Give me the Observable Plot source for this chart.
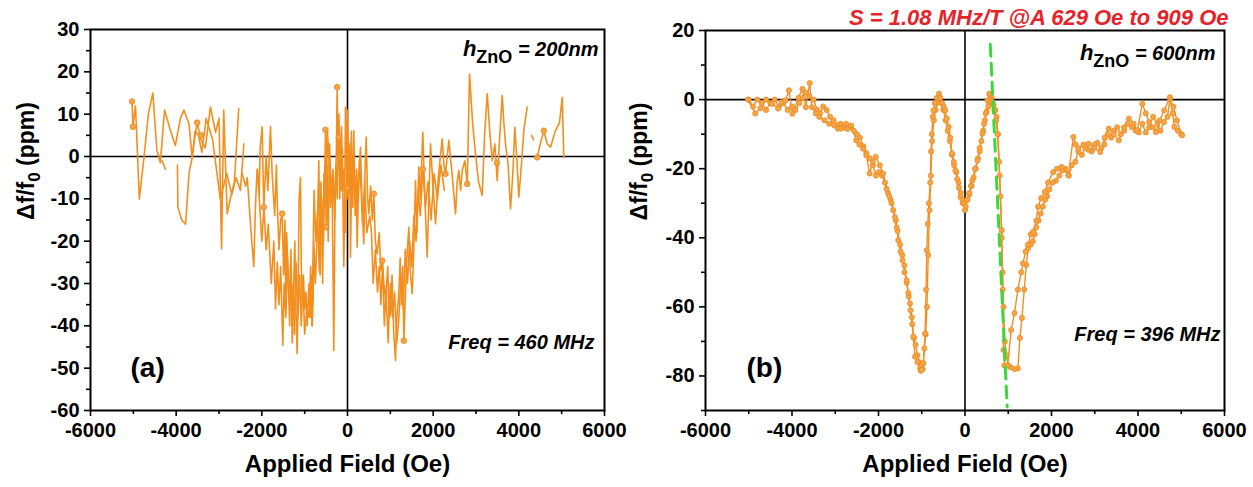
<!DOCTYPE html>
<html><head><meta charset="utf-8">
<script src="https://cdn.jsdelivr.net/npm/d3@7"></script>
<script src="https://cdn.jsdelivr.net/npm/@observablehq/plot@0.6"></script>
<style>
body{margin:0;background:#fff;}
#wrap{display:flex;width:1253px;height:487px;overflow:hidden;background:#fff;}
#wrap svg{overflow:visible;}
#pa{position:relative;z-index:2;}
</style></head><body><div id="wrap"><div id="pa"></div><div id="pb"></div></div>
<script>
// ---------- tick values ----------
const xTicks = [-6000,-4000,-2000,0,2000,4000,6000];
const xMinor = [-5000,-3000,-1000,1000,3000,5000];
const aYTicks = [-60,-50,-40,-30,-20,-10,0,10,20,30];
const aYMinor = [-55,-45,-35,-25,-15,-5,5,15,25];
const bYTicks = [-80,-60,-40,-20,0,20];
const bYMinor = [-90,-70,-50,-30,-10,10];

// ---------- texts ----------
const xLabel = "Applied Field (Oe)";
const yLabel = "Δf/f0 (ppm)";
const hLabelA = "hZnO = 200nm";
const hLabelB = "hZnO = 600nm";
const freqA = "Freq = 460 MHz";
const freqB = "Freq = 396 MHz";
const tagA = "(a)";
const tagB = "(b)";
const titleB = "S = 1.08 MHz/T @A 629 Oe to 909 Oe";

// ---------- panel (a) data: [field Oe, ppm]; null = gap ----------
const aTrace1 = [[-5030,13],[-5010,7],[-4950,12],[-4860,-10],[-4760,-1],[-4650,10],[-4545,15],[-4450,1.5],[-4370,-1.5],[-4270,11],[-4130,6],[-4020,2.6],[-3900,9],[-3820,11],[-3700,7.7],[-3630,0],[-3510,8],[-3420,4],[-3320,2],[-3200,11.7],[-3080,5.7],[-3000,9],[-2940,-21.8],[-2890,11],[-2810,-13.5],[-2710,-8.8],[-2640,-6],[-2540,11.3],[-2500,null],
[-2460,-4],[-2380,-7],[-2340,-5],[-2250,-18],[-2188,-26],[-2150,-12],[-2110,-3],[-2060,-9],[-2040,2],[-1992,7],[-1970,-5],[-1953,-12],[-1900,0],[-1860,-8],[-1798,7],[-1760,-4],[-1700,-14],[-1660,-2],[-1642,-10],[-1600,-22],[-1560,-15],[-1525,-13.5],[-1490,-28],[-1460,-15],[-1440,-34],[-1420,-18],[-1390,-27],[-1350,-40],[-1320,-22],[-1291,-44],[-1260,-32],[-1230,-20],[-1200,-38],[-1175,-46.6],[-1150,-30],[-1130,-10],[-1097,-5],[-1080,-25],[-1058,-35],[-1030,-28],[-1000,-36],[-970,-32],[-941,-40],[-900,-30],[-870,-38],[-850,-28],[-824,-40],[-800,-33],[-785,-20],[-750,-30],[-707,-18],[-670,-1],[-640,-28],[-600,-10],[-560,-20],[-514,6],[-500,-16.7],[-470,6.3],[-437,0.6],[-400,-12],[-360,-5],[-320,-45.8],[-290,-8],[-260,1],[-241,16.4],[-220,-3],[-200,4.6],[-180,-10],[-163,4.6],[-140,-8],[-120,2],[-100,-16],[-86,-26],[-60,-5],[-47,11.7],[-30,-3],[-8,8.5],[10,-10],[31,-7.2],[50,2],[70,-23.8],[100,-2],[125,-12],[148,6.1],[170,-8],[200,-5],[226,-21.4],[260,-5],[304,2.2],[340,-12],[381,-20.6],[410,-3],[436,4.6],[470,-10],[498,-13.5],[540,-7],[580,-15],[615,-8.8],[650,-20],[693,-23],[740,-18],[780,-27],[810,-24.6],[850,-30],[888,-34],[940,-26],[970,-38],[1004,-37.2],[1040,-28],[1080,-42],[1121,-48.2],[1150,-38],[1198,-32.4],[1230,-24],[1260,-35],[1290,-26],[1315,-43.5],[1354,-32],[1380,-25],[1431,-16.7],[1470,-28],[1510,-32.4],[1548,-21.4],[1588,-5.7],[1620,-18],[1665,-2.5],[1700,-10],[1758,5.7],[1800,-8],[1860,-23.8],[1900,-10],[1938,3],[1990,-6],[2055,-15.9],[2120,-5],[2211,4.2],[2250,-2],[2288,-4.1],[2366,3.8],[2440,-4],[2522,-13.5],[2560,-6],[2599,-3.3],[2640,-8],[2678,-3.3],[2740,-1],[2795,-6.5],[2849,19.5],[2920,8],[2989,0.6],[3060,-6],[3145,-9.2],[3200,5],[3262,14.8],[3320,6],[3378,-0.9],[3440,3],[3495,-5.7],[3550,4],[3612,14.4],[3650,8],[3689,3],[3750,-2],[3806,-12.4],[3860,-4],[3906,6.9],[3950,0],[3999,-9.6],[4060,-2],[4116,6.1],[4196,11.7],[4250,null],[4300,5],[4340,4],[4380,null],[4429,-0.2],[4500,3],[4583,6.1],[4660,3],[4740,2.2],[4850,6],[4950,8],[5013,14],[5050,-0.2]];

const aTrace2 = [[-4330,-1],[-4250,-3],[-4200,null],[-3970,-2],[-3960,-12],[-3870,-15],[-3780,-16],[-3700,-4],[-3620,0],[-3560,6],[-3480,5],[-3400,1],[-3300,9],[-3150,4],[-2970,-10],[-2820,-4],[-2700,-9],[-2600,-5],[-2500,-8],[-2420,3],[-2380,null],
[-2100,-3],[-2000,-20],[-1950,-12],[-1900,-22],[-1850,-16],[-1780,-30],[-1720,-20],[-1680,-36],[-1640,-25],[-1600,-35],[-1560,-26],[-1510,-44.6],[-1480,-30],[-1440,-38],[-1400,-24],[-1360,-35],[-1330,-26],[-1300,-40],[-1270,-30],[-1240,-42],[-1200,-25],[-1160,-38],[-1120,-28],[-1080,-40],[-1040,-30],[-1000,-42],[-950,-36],[-900,-38],[-860,-26],[-830,-40],[-780,-8],[-740,-20],[-700,-13],[-660,-27],[-620,-6],[-580,-30],[-550,-4],[-520,-12],[-480,-2],[-450,-20],[-420,3],[-380,-9],[-340,-3],[-300,-15],[-270,-2],[-240,-10],[-200,10],[-170,-6],[-140,7],[-110,-8],[-80,-3],[-50,-18],[-20,-8],[0,11],[20,-4],[40,3],[60,-8],[90,6],[120,-5],[150,0],[180,-14],[210,-3],[250,-11],[280,-1],[320,-8],[350,-16],[400,-6],[450,-18],[520,-14],[560,-18],[600,-30],[650,-22],[700,-32],[740,-26],[780,-35],[820,-25],[860,-40],[900,-32],[950,-44],[980,-35],[1000,-30],[1050,-38],[1100,-32],[1150,-44],[1200,-38],[1250,-28],[1300,-36],[1350,-22],[1400,-30],[1450,-20],[1500,-26],[1550,-14],[1600,-20],[1650,-8],[1700,-14],[1760,-3],[1820,-12],[1880,-6],[1950,-15],[2020,-4],[2100,-10],[2180,-2],[2260,-8]];

const aMarkers = [[-5030,13],[-5010,7],[-3510,8],[-3420,5],[-1953,-12],[-1525,-13.5],[-514,6.3],[-500,-16.7],[-241,16.4],[-200,4.6],[-8,-7.5],[615,-8.8],[810,-24.6],[1315,-43.5],[1760,-3],[2288,-4.1],[2795,-6.5],[3490,-1.5],[4429,-0.2],[4583,6.1]];

// ---------- panel (b) data ----------
const bTraceA = [[-5020,0],[-4850,-4],[-4730,-2.5],[-4600,0],[-4460,-1.2],[-4320,-2.6],[-4240,-0.7],[-4150,-0.2],[-4070,2.7],[-3990,-4.1],[-3850,0.5],[-3760,3.1],[-3680,-2.2],[-3590,4.8],[-3540,-2.2],[-3450,-4],[-3370,-5],[-3250,-6],[-3140,-7],[-3020,-7.5],[-2940,-8.4],[-2865,-8.4],[-2748,-7],[-2631,-7.5],[-2514,-11.8],[-2440,-13],[-2358,-14.2],[-2281,-16.1],[-2203,-21.4],[-2130,-18],[-2063,-16.6],[-1970,-19],[-1893,-21.4],[-1815,-25.8],[-1750,-28],[-1698,-30],[-1620,-34],[-1580,-37],[-1543,-40.7],[-1490,-44],[-1443,-46.5],[-1400,-50],[-1350,-52.3],[-1310,-56],[-1272,-59],[-1230,-63],[-1195,-68.6],[-1156,-74.4],[-1100,-76],[-1039,-77.8],[-1000,-78.2],[-962,-76.3],[-922,-67.7],[-900,-55],[-883,-43.6],[-860,-36],[-835,-30],[-805,-24],[-785,-15],[-767,-10],[-745,-5],[-728,-3.1],[-700,-1],[-650,0.5],[-600,1.7],[-572,0.5],[-530,-1],[-490,-2],[-455,-3.1],[-420,-5.5],[-378,-7.9],[-340,-11],[-300,-15.6],[-260,-18],[-222,-20.5],[-180,-23],[-140,-25.5],[-105,-28.2],[-60,-29],[-20,-30],[15,-31],[60,-29],[100,-27],[140,-25],[171,-23.4],[230,-20],[288,-17.6],[340,-14],[404,-9.8],[440,-7],[480,-4],[521,-0.2],[560,1.7],[600,-0.5],[638,-0.9],[680,-3],[720,-6],[755,-10],[800,-22],[848,-37.8],[871,-55],[890,-72.5],[910,-77],[988,-77],[1067,-66.7],[1144,-61.8],[1222,-55],[1300,-50],[1340,-47.4],[1400,-44],[1456,-42],[1520,-39],[1573,-38.3],[1650,-35],[1689,-31],[1760,-28.5],[1845,-26.7],[1920,-24],[2039,-21],[2130,-20],[2234,-19.5],[2389,-21.9],[2506,-10.8],[2560,-13],[2622,-14.2],[2740,-13],[2856,-12.8],[2990,-14],[3129,-15.2],[3230,-11],[3324,-8.4],[3440,-10],[3557,-11.8],[3680,-8],[3790,-5.5],[3900,-7],[3985,-8.9],[4101,-1.2],[4180,-4],[4257,-6.5],[4340,-8],[4413,-9.4],[4500,-6],[4607,-3.1],[4740,0.7],[4800,-4],[4841,-7.9],[4920,-9],[5020,-10.3]];

const bTraceB = [[5000,-10],[4900,-6],[4820,-2],[4740,0],[4680,-5],[4600,-6.5],[4520,-9],[4450,-7],[4350,-5],[4260,-8],[4180,-9.5],[4100,-7],[4020,-9.5],[3950,-9],[3860,-8],[3760,-7],[3680,-9],[3600,-10],[3520,-8],[3450,-9],[3380,-11],[3300,-10],[3220,-13],[3150,-14],[3060,-12.5],[3000,-13],[2930,-15],[2850,-14.5],[2780,-14],[2700,-16],[2620,-15],[2550,-18],[2470,-19],[2400,-22],[2320,-20],[2250,-20.5],[2180,-22],[2100,-23.5],[2030,-24],[1950,-26],[1900,-28],[1850,-29],[1800,-31],[1750,-33],[1700,-35],[1650,-37],[1610,-39],[1570,-41],[1520,-42],[1460,-43],[1417,-47.9],[1370,-55],[1316,-63.2],[1270,-69],[1222,-77.8],[1150,-78],[1060,-77.5],[1000,-77],[960,-74],[920,-70],[890,-60],[870,-50],[850,-40],[820,-28],[790,-18],[760,-10],[730,-5],[700,-3],[660,-1.5],[620,0.5],[580,0],[540,-2],[500,-3.5],[460,-6],[420,-9],[380,-12],[340,-15],[300,-17],[250,-20],[200,-22.5],[150,-25],[100,-27.5],[50,-29],[0,-32],[-50,-30],[-100,-27],[-150,-24],[-200,-21],[-250,-19],[-300,-16],[-350,-12],[-400,-9],[-450,-6],[-500,-3],[-550,-1],[-600,0.5],[-640,-1],[-680,-3],[-720,-6],[-760,-12],[-790,-22],[-820,-32],[-850,-45],[-880,-60],[-910,-68],[-940,-72],[-980,-78],[-1020,-78.5],[-1060,-76],[-1100,-74],[-1140,-71],[-1180,-69],[-1220,-65],[-1260,-61],[-1300,-57],[-1350,-53],[-1400,-48],[-1450,-45],[-1500,-42],[-1560,-38],[-1600,-35],[-1660,-32],[-1720,-29],[-1780,-27],[-1850,-24],[-1920,-22],[-1990,-21],[-2060,-22],[-2130,-19],[-2200,-17],[-2280,-15.5],[-2350,-13.5],[-2430,-11],[-2500,-10],[-2570,-9],[-2650,-8],[-2720,-8.5],[-2800,-8],[-2880,-7],[-2960,-7.5],[-3040,-6],[-3120,-5],[-3200,-3],[-3280,-2],[-3350,-4],[-3420,-3],[-3500,0],[-3600,1],[-3680,2],[-3750,0.5],[-3830,-1],[-3920,-3],[-4000,-2],[-4100,-3],[-4200,-1],[-4300,-2],[-4400,0],[-4500,-1],[-4600,-3],[-4700,-1],[-4800,0],[-4900,-2],[-5000,0]];

// green dashed sensitivity line (field Oe, ppm)
const fitX = [584, 975];
const fitY = [16, -89];

// ---------- helpers ----------
const toRows = arr => arr.map(([x, y]) => ({x, y}));
const FONT = "'Liberation Sans', Arial, Helvetica, sans-serif";
const ORANGE = "#f28f1f";

function axes(yTicks, yMinor) {
  const common = {stroke: "black", strokeWidth: 1.6, fontSize: 20, fontWeight: "bold", label: null};
  return [
    Plot.axisX(xTicks, {...common, tickSize: 6, tickPadding: 6, tickFormat: d => String(d)}),
    Plot.axisX(xMinor, {...common, tickSize: 4, tickFormat: () => ""}),
    Plot.axisY(yTicks, {...common, tickSize: 6, tickPadding: 5, tickFormat: d => String(d)}),
    Plot.axisY(yMinor, {...common, tickSize: 4, tickFormat: () => ""})
  ];
}

function labels(dxY) {
  return [
    Plot.text([xLabel], {frameAnchor: "bottom", dy: 61, fontSize: 24, fontWeight: "bold", fill: "black"}),
    Plot.text([yLabel], {frameAnchor: "left", dx: dxY, rotate: -90, fontSize: 23, fontWeight: "bold", fill: "black"})
  ];
}

function panel(width, ml, mr, mt, yDomain, marks) {
  return Plot.plot({
    width, height: 487,
    marginLeft: ml, marginRight: mr, marginTop: mt, marginBottom: 77,
    x: {domain: [-6000, 6000], axis: null},
    y: {domain: yDomain, axis: null},
    style: {fontFamily: FONT, color: "black", background: "transparent", overflow: "visible"},
    marks
  });
}

// ---------- panel (a) ----------
const svgA = panel(620, 90, 16, 29, [-60, 30], [
  Plot.ruleY([0], {stroke: "black", strokeWidth: 1.6}),
  Plot.ruleX([0], {stroke: "black", strokeWidth: 1.6}),
  Plot.line(toRows(aTrace2), {x: "x", y: "y", stroke: ORANGE, strokeWidth: 1.6, curve: "linear"}),
  Plot.line(toRows(aTrace1), {x: "x", y: "y", stroke: ORANGE, strokeWidth: 1.6, curve: "linear"}),
  Plot.dot(toRows(aMarkers), {x: "x", y: "y", r: 2.8, fill: "#f5a445", stroke: "#e8861c", strokeWidth: 0.8}),
  Plot.frame({stroke: "black", strokeWidth: 2}),
  ...axes(aYTicks, aYMinor),
  ...labels(-64),
  Plot.text([hLabelA], {frameAnchor: "top-right", dx: -6, dy: 26, textAnchor: "end", lineAnchor: "bottom", fontSize: 20, fontWeight: "bold", fontStyle: "italic", fill: "black"}),
  Plot.text([freqA], {frameAnchor: "bottom-right", dx: -10, dy: -62, textAnchor: "end", fontSize: 20, fontWeight: "bold", fontStyle: "italic", fill: "black"}),
  Plot.text([tagA], {frameAnchor: "bottom-left", dx: 40, dy: -34, fontSize: 28, fontWeight: "bold", fill: "black"})
]);

// ---------- panel (b) ----------
const svgB = panel(633, 85, 29, 30, [-90, 20], [
  Plot.ruleY([0], {stroke: "black", strokeWidth: 1.6}),
  Plot.ruleX([0], {stroke: "black", strokeWidth: 1.6}),
  Plot.line(toRows(bTraceB), {x: "x", y: "y", stroke: ORANGE, strokeWidth: 1.4}),
  Plot.line(toRows(bTraceA), {x: "x", y: "y", stroke: ORANGE, strokeWidth: 1.4}),
  Plot.dot(toRows(bTraceB), {x: "x", y: "y", r: 2.6, fill: "#f6a446", stroke: "#e8861c", strokeWidth: 0.7}),
  Plot.dot(toRows(bTraceA), {x: "x", y: "y", r: 2.6, fill: "#f6a446", stroke: "#e8861c", strokeWidth: 0.7}),
  Plot.line(fitX.map((x, i) => ({x, y: fitY[i]})), {x: "x", y: "y", stroke: "#3cd83c", strokeWidth: 3, strokeDasharray: "12,7"}),
  Plot.frame({stroke: "black", strokeWidth: 2}),
  ...axes(bYTicks, bYMinor),
  ...labels(-66),
  Plot.text([titleB], {frameAnchor: "top-right", dx: 4, dy: -6, textAnchor: "end", lineAnchor: "bottom", fontSize: 22, fontWeight: "bold", fontStyle: "italic", fill: "#e4232b"}),
  Plot.text([hLabelB], {frameAnchor: "top-right", dx: -9, dy: 29, textAnchor: "end", lineAnchor: "bottom", fontSize: 20, fontWeight: "bold", fontStyle: "italic", fill: "black"}),
  Plot.text([freqB], {frameAnchor: "bottom-right", dx: -4, dy: -70, textAnchor: "end", fontSize: 20, fontWeight: "bold", fontStyle: "italic", fill: "black"}),
  Plot.text([tagB], {frameAnchor: "bottom-left", dx: 41, dy: -34, fontSize: 28, fontWeight: "bold", fill: "black"})
]);

// ---------- rich text (subscripts) & cleanup ----------
function enrich(svg) {
  d3.select(svg).selectAll("text").each(function() {
    const t = d3.select(this);
    const s = this.textContent;
    if (s === "") { t.remove(); return; }
    if (s === yLabel) {
      t.html('Δf/f<tspan dy="6" font-size="17">0</tspan><tspan dy="-6"> (ppm)</tspan>');
    } else if (s === hLabelA || s === hLabelB) {
      const rest = s.slice(4);
      t.html('<tspan font-size="22">h</tspan><tspan dy="7" font-size="18" font-style="normal">ZnO</tspan><tspan dy="-7">' + rest + '</tspan>');
    }
  });
}
enrich(svgA); enrich(svgB);
document.getElementById("pa").appendChild(svgA);
document.getElementById("pb").appendChild(svgB);
</script></body></html>
